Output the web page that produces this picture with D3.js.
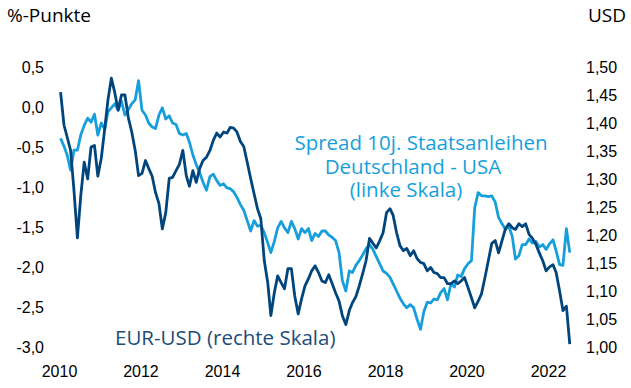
<!DOCTYPE html>
<html>
<head>
<meta charset="utf-8">
<style>
  body { margin: 0; background: #fff; overflow: hidden; }
  .tick text { font: 16px "Liberation Sans", Arial, sans-serif; fill: #000; }
  .title { font: 19px "Open Sans", sans-serif; fill: #000; }
  .note { font: 20.5px "Open Sans", sans-serif; }
</style>
<script src="https://d3js.org/d3.v7.min.js"></script>
</head>
<body>
<svg width="631" height="388"></svg>
<script>
// EUR-USD, monthly readings (right scale)
var eurusd = [
  1.455, 1.396, 1.375, 1.351, 1.28, 1.195, 1.27, 1.33, 1.30, 1.357, 1.36, 1.305,
  1.337, 1.39, 1.44, 1.48, 1.455, 1.423, 1.45, 1.45, 1.409, 1.384, 1.351, 1.306,
  1.31, 1.333, 1.319, 1.305, 1.276, 1.256, 1.211, 1.24, 1.301, 1.303, 1.315, 1.326,
  1.351, 1.306, 1.287, 1.315, 1.294, 1.319, 1.333, 1.339, 1.351, 1.369, 1.382, 1.375,
  1.384, 1.382, 1.392, 1.391, 1.384, 1.367, 1.358, 1.33, 1.301, 1.274, 1.247, 1.229,
  1.154, 1.115, 1.056, 1.097, 1.127, 1.115, 1.104, 1.14, 1.14, 1.091, 1.059, 1.086,
  1.109, 1.122, 1.136, 1.145, 1.133, 1.118, 1.115, 1.129, 1.113, 1.097, 1.082, 1.056,
  1.04, 1.065, 1.079, 1.09, 1.109, 1.131, 1.154, 1.194, 1.185, 1.177, 1.19, 1.204,
  1.24, 1.247, 1.235, 1.204, 1.181, 1.172, 1.176, 1.163, 1.172, 1.158, 1.151, 1.149,
  1.136, 1.142, 1.133, 1.131, 1.124, 1.124, 1.113, 1.113, 1.118, 1.113, 1.118, 1.124,
  1.106, 1.088, 1.07, 1.082, 1.095, 1.124, 1.154, 1.185, 1.19, 1.168, 1.19, 1.211,
  1.22, 1.213, 1.21, 1.22, 1.215, 1.22, 1.201, 1.194, 1.183, 1.168, 1.154, 1.136,
  1.143, 1.147, 1.133, 1.10, 1.065, 1.073, 1.005
];

// spread 10y Bund - US Treasury, %-points (left scale)
var spread = [
  -0.39, -0.49, -0.60, -0.79, -0.54, -0.54, -0.35, -0.23, -0.14, -0.19, -0.09, -0.35,
  -0.20, -0.28, -0.06, -0.01, 0.04, -0.04, 0.07, -0.10, -0.03, 0.04, 0.09, 0.33,
  -0.04, -0.10, -0.20, -0.25, -0.27, -0.10, -0.01, -0.15, -0.11, -0.20, -0.22, -0.33,
  -0.35, -0.33, -0.44, -0.60, -0.72, -0.82, -0.94, -1.04, -0.87, -0.84, -0.92, -0.98,
  -0.96, -1.01, -1.02, -1.06, -1.13, -1.22, -1.29, -1.42, -1.55, -1.42, -1.49, -1.48,
  -1.57, -1.70, -1.82, -1.68, -1.51, -1.43, -1.51, -1.57, -1.43, -1.52, -1.65, -1.52,
  -1.57, -1.52, -1.67, -1.58, -1.62, -1.55, -1.55, -1.60, -1.63, -1.67, -1.82, -2.17,
  -2.30, -2.05, -2.07, -1.98, -1.92, -1.85, -1.77, -1.72, -1.78, -1.87, -1.96, -2.05,
  -2.08, -2.13, -2.21, -2.30, -2.39, -2.46, -2.51, -2.47, -2.51, -2.65, -2.78, -2.56,
  -2.44, -2.45, -2.40, -2.41, -2.32, -2.27, -2.41, -2.21, -2.25, -2.10, -2.12, -2.02,
  -1.96, -1.92, -1.26, -1.07, -1.11, -1.11, -1.12, -1.11, -1.19, -1.38, -1.46, -1.53,
  -1.49, -1.62, -1.90, -1.86, -1.72, -1.72, -1.65, -1.70, -1.68, -1.75, -1.72, -1.78,
  -1.71, -1.66, -1.80, -1.97, -1.98, -1.52, -1.82
];

var yearTicks = [2010, 2012, 2014, 2016, 2018, 2020, 2022];
var leftTicks = [0.5, 0, -0.5, -1, -1.5, -2, -2.5, -3];
var rightTicks = [1.50, 1.45, 1.40, 1.35, 1.30, 1.25, 1.20, 1.15, 1.10, 1.05, 1.00];

var darkBlue = "#00457c", lightBlue = "#179fdc";

var de = d3.formatLocale({ decimal: ",", thousands: ".", grouping: [3], currency: ["", " €"], minus: "-" });

var svg = d3.select("svg");

// one point per month, mid-month
var start = new Date(2010, 0, 15);
var dates = eurusd.map(function (d, i) { return d3.timeMonth.offset(start, i); });

var x = d3.scaleTime()
    .domain([new Date(2010, 0, 1), new Date(2022, 0, 1)])
    .range([59, 548]);

var yL = d3.scaleLinear().domain([-3, 0.5]).range([347, 67]);
var yR = d3.scaleLinear().domain([1.0, 1.5]).range([347, 67]);

// axes: labels only
var xAxis = svg.append("g")
    .attr("transform", "translate(0,366)")
    .call(d3.axisBottom(x)
        .tickValues(yearTicks.map(function (y) { return new Date(y, 0, 1); }))
        .tickFormat(d3.timeFormat("%Y"))
        .tickSize(0).tickPadding(0));
xAxis.selectAll("text").attr("dy", "0.71em");

var leftAxis = svg.append("g")
    .attr("transform", "translate(44,0)")
    .call(d3.axisLeft(yL).tickValues(leftTicks).tickFormat(de.format(".1f"))
        .tickSize(0).tickPadding(0));

var rightAxis = svg.append("g")
    .attr("transform", "translate(586,0)")
    .call(d3.axisRight(yR).tickValues(rightTicks).tickFormat(de.format(".2f"))
        .tickSize(0).tickPadding(0));

svg.selectAll(".domain").remove();

// lines
var spreadLine = d3.line()
    .x(function (d, i) { return x(dates[i]); })
    .y(function (d) { return yL(d); });

var eurLine = d3.line()
    .x(function (d, i) { return x(dates[i]); })
    .y(function (d) { return yR(d); });

svg.append("path")
    .datum(spread)
    .attr("fill", "none")
    .attr("stroke", lightBlue)
    .attr("stroke-width", 2.8)
    .attr("stroke-linejoin", "round")
    .attr("d", spreadLine);

svg.append("path")
    .datum(eurusd)
    .attr("fill", "none")
    .attr("stroke", darkBlue)
    .attr("stroke-width", 2.8)
    .attr("stroke-linejoin", "round")
    .attr("d", eurLine);

// titles
svg.append("text").attr("class", "title").attr("x", 7).attr("y", 22).text("%-Punkte");
svg.append("text").attr("class", "title").attr("x", 626).attr("y", 22)
    .attr("text-anchor", "end").text("USD");

// annotations
var notes = svg.append("g").attr("class", "note")
    .attr("fill", lightBlue).attr("text-anchor", "middle");
notes.append("text").attr("x", 421).attr("y", 150).text("Spread 10j. Staatsanleihen");
notes.append("text").attr("x", 413).attr("y", 174).text("Deutschland - USA");
notes.append("text").attr("x", 406).attr("y", 197).text("(linke Skala)");

svg.append("text").attr("class", "note")
    .attr("fill", "#1d4d7a")
    .attr("x", 115).attr("y", 345)
    .text("EUR-USD (rechte Skala)");
</script>
</body>
</html>
